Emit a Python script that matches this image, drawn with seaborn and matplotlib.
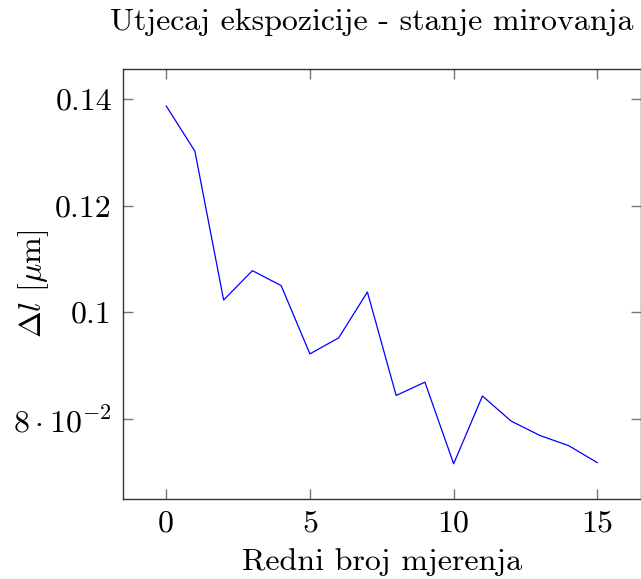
import numpy as np
import pandas as pd
import seaborn as sns
import matplotlib
matplotlib.use("Agg")
import matplotlib.pyplot as plt

# izmjereni podaci
mjerenje = list(range(16))
delta_l = [0.1387, 0.1302, 0.1023, 0.1078, 0.1050, 0.0922, 0.0952, 0.1038,
           0.0844, 0.0869, 0.0716, 0.0843, 0.0796, 0.0769, 0.0750, 0.0718]
y_ticks = [0.08, 0.10, 0.12, 0.14]
y_tick_labels = [r'$8 \cdot 10^{-2}$', '0.1', '0.12', '0.14']
x_ticks = [0, 5, 10, 15]

sns.set_style('ticks')
plt.rcParams['font.family'] = ['cmr10', 'DejaVu Serif']
plt.rcParams['mathtext.fontset'] = 'cm'
plt.rcParams['axes.unicode_minus'] = False
plt.rcParams['text.color'] = 'black'
plt.rcParams['axes.labelcolor'] = 'black'

df = pd.DataFrame({'mjerenje': mjerenje, 'delta_l': delta_l})

fig = plt.figure(figsize=(6.41, 5.79), dpi=100)
ax = fig.add_axes([0.1919, 0.1382, 0.8074, 0.7426])
sns.lineplot(data=df, x='mjerenje', y='delta_l', color='#0000ff', linewidth=0.9, ax=ax)

ax.set_xlim(-1.5, 16.5)
ax.set_ylim(0.065, 0.1456)
ax.set_xticks(x_ticks)
ax.set_xticklabels([str(t) for t in x_ticks])
ax.set_yticks(y_ticks)
ax.set_yticklabels(y_tick_labels)
ax.tick_params(direction='in', length=7, width=1, color='#777777', labelcolor='black',
               top=True, right=True, labelsize=23, pad=8)
for s in ax.spines.values():
    s.set_color('#333333')
    s.set_linewidth(1)

ax.set_xlabel('Redni broj mjerenja', fontsize=23)
ax.xaxis.set_label_coords(0.5, -0.114)
ax.set_ylabel(r'$\Delta l$ [$\mu$m]', fontsize=23)
ax.yaxis.set_label_coords(-0.14, 0.5)
fig.text(0.58, 0.948, 'Utjecaj ekspozicije - stanje mirovanja', fontsize=23,
         ha='center', va='baseline')

fig.savefig('out.png', dpi=100)
